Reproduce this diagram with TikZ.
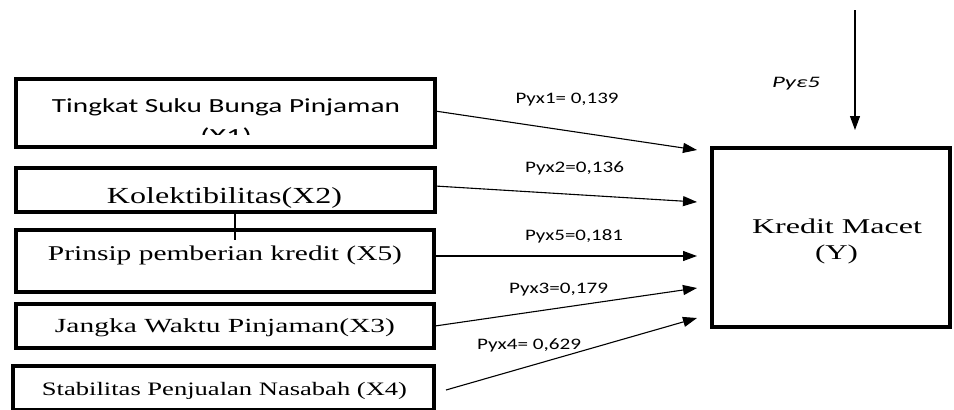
\documentclass[tikz,border=0pt]{standalone}
\usepackage{fontspec}
\usepackage{graphicx}
\setmainfont{Liberation Serif}
\newfontfamily\labfont{Carlito}
\usetikzlibrary{arrows.meta}
% stretch a piece of text to a given width, keeping its height
\newcommand{\fitw}[2]{\resizebox{#1}{\height}{#2}}

\begin{document}
\begin{tikzpicture}[x=1pt,y=-1pt,
  frame/.style={draw, line width=3.2pt, rectangle, inner sep=0pt},
  varlabel/.style={inner sep=0pt, anchor=base},
  effect/.style={line width=1.1pt, -{Triangle[length=14pt,width=10pt]}},
  coef/.style={font=\labfont\fontsize{16}{18}\selectfont, inner sep=0pt, anchor=base}
]
\useasboundingbox[fill=white] (0,0) rectangle (954,410);

% exogenous variables
\node[frame, minimum width=419pt, minimum height=68pt] (x1) at (225.5,113) {};
\node[frame, minimum width=419pt, minimum height=44pt] (x2) at (225.5,190) {};
\node[frame, minimum width=418pt, minimum height=62pt] (x5) at (225,261) {};
\node[frame, minimum width=418pt, minimum height=44pt] (x3) at (225,326) {};
\node[frame, minimum width=421pt, minimum height=44pt] (x4) at (223.5,388) {};

% endogenous variable
\node[frame, line width=3.6pt, minimum width=238pt, minimum height=179pt] (y) at (831,237.5) {};

% box texts; the second line of X1 is cut off by its text area
\node[varlabel, font=\labfont\fontsize{20}{24}\selectfont] (t1) at (226,112) {\fitw{348pt}{Tingkat Suku Bunga Pinjaman}};
\begin{scope}
  \clip (16,79) rectangle (435,134);
  \node[varlabel, font=\labfont\fontsize{20}{24}\selectfont] (t1b) at (226,142) {\fitw{52pt}{(X1)}};
\end{scope}

\node[varlabel, font=\fontsize{23}{26}\selectfont] (t2) at (224.5,203) {\fitw{235pt}{Kolektibilitas(X2)}};
\node[varlabel, font=\fontsize{21}{24}\selectfont] (t5) at (225,260) {\fitw{354pt}{Prinsip pemberian kredit (X5)}};
\node[varlabel, font=\fontsize{20}{24}\selectfont] (t3) at (225,332) {\fitw{340pt}{Jangka Waktu Pinjaman(X3)}};
\node[varlabel, font=\fontsize{19}{22}\selectfont] (t4) at (224.5,395) {\fitw{365pt}{Stabilitas Penjualan Nasabah (X4)}};

\node[varlabel, font=\fontsize{21}{24}\selectfont] (ty1) at (837,233) {\fitw{170pt}{Kredit Macet}};
\node[varlabel, font=\fontsize{21}{24}\selectfont] (ty2) at (836.5,259) {\fitw{43pt}{(Y)}};

% link between X2 and X5
\coordinate (l5) at (235,240);
\draw[line width=1.1pt] (x2.south -| l5) -- (l5);

% arrow ends in front of the Y box
\coordinate (e1) at (697,150);
\coordinate (e2) at (697,202);
\coordinate (e5) at (697,256);
\coordinate (e3) at (697,288);
\coordinate (e4) at (697,318);
\coordinate (s1) at (435,111);
\coordinate (s2) at (435,186);
\coordinate (s3) at (435,326);
\coordinate (s4) at (446,390);
\coordinate (etop) at (855,10);
\coordinate (eend) at (855,130);

\draw[effect] (s1) -- (e1);
\draw[effect] (s2) -- (e2);
\draw[effect] (x5.east |- e5) -- (e5);
\draw[effect] (s3) -- (e3);
\draw[effect] (s4) -- (e4);
\draw[effect] (etop) -- (eend);

% path coefficients
\node[coef] (c1) at (567,103) {\fitw{103pt}{Pyx1= 0,139}};
\node[coef] (c2) at (574.5,172) {\fitw{99pt}{Pyx2=0,136}};
\node[coef] (c5) at (574,240) {\fitw{98pt}{Pyx5=0,181}};
\node[coef] (c3) at (558.5,293) {\fitw{99pt}{Pyx3=0,179}};
\node[coef] (c4) at (529,349) {\fitw{104pt}{Pyx4= 0,629}};
\node[coef] (ce) at (796,87) {\fitw{48pt}{\itshape Pyε5}};
\end{tikzpicture}
\end{document}
